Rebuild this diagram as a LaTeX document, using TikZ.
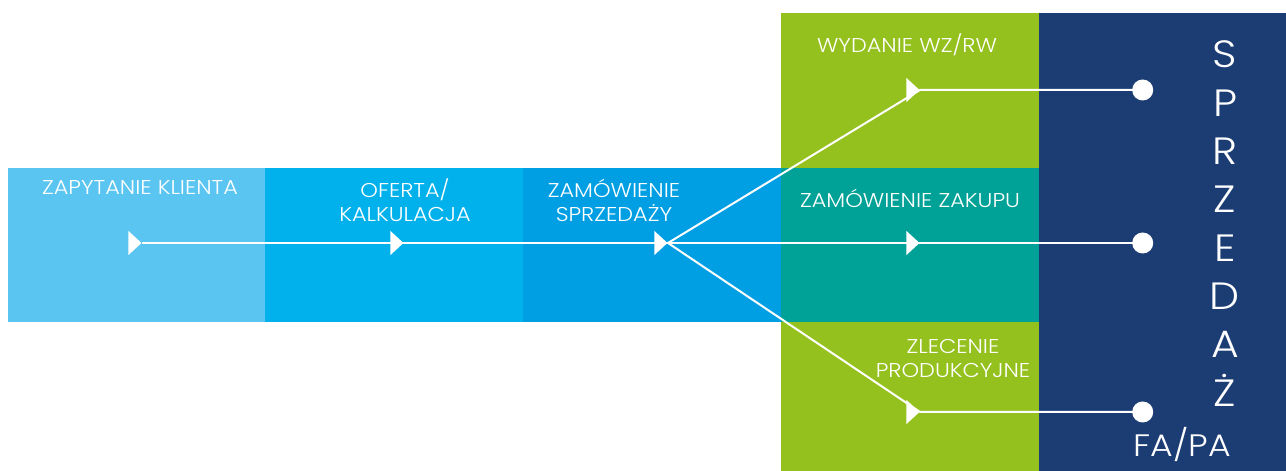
\documentclass[tikz,border=0pt]{standalone}
\usepackage{fontspec}
\setmainfont{Poppins Light}
\newfontfamily\widefont{Poppins Light}[FakeStretch=1.12]
\usepackage{tikz}
\usetikzlibrary{arrows,positioning,shapes.geometric}
\definecolor{skyblue}{HTML}{5BC5F2}
\definecolor{midblue}{HTML}{00B1EB}
\definecolor{deepblue}{HTML}{009FE3}
\definecolor{limegreen}{HTML}{95C11F}
\definecolor{seateal}{HTML}{00A297}
\definecolor{navyblue}{HTML}{1C3D74}

\begin{document}
\begin{tikzpicture}[x=1pt,y=1pt,
    arrowhead/.style={isosceles triangle, isosceles triangle stretches,
      fill=white, inner sep=0pt, minimum width=24pt, minimum height=13pt, anchor=apex},
    endpoint/.style={circle, fill=white, inner sep=0pt, minimum size=21pt},
    flow/.style={white, line width=2pt},
    boxtext/.style={text=white, align=center, font=\widefont\fontsize{20}{24}\selectfont}]
  \useasboundingbox (0,0) rectangle (1286,471);
  % bands
  \fill[skyblue] (8,149) rectangle (265,303);
  \fill[midblue] (265,149) rectangle (523,303);
  \fill[deepblue] (523,149) rectangle (781,303);
  \fill[limegreen] (781,0) rectangle (1039,458);
  \fill[seateal] (781,149) rectangle (1039,303);
  \fill[navyblue] (1039,0) rectangle (1286,458);
  % markers
  \node (zk) [arrowhead] at (142,228) {};
  \node (of) [arrowhead] at (404,228) {};
  \node (zs) [arrowhead] at (668,228) {};
  \node (wz) [arrowhead] at (920,381) {};
  \node (zz) [arrowhead] at (920,228) {};
  \node (zp) [arrowhead] at (920,59) {};
  \node (d1) [endpoint, right=212pt of wz.apex] {};
  \node (d2) [endpoint, right=212pt of zz.apex] {};
  \node (d3) [endpoint, right=212pt of zp.apex] {};
  \draw[flow] (zk.apex) -- (of.apex) -- (zs.apex) -- (zz.apex) -- (d2.center);
  \draw[flow] (zs.apex) -- (wz.apex) -- (d1.center);
  \draw[flow] (zs.apex) -- (zp.apex) -- (d3.center);
  % labels
  \node (zapyt) [boxtext] at (140,283) {ZAPYTANIE KLIENTA};
  \node (oferta) [boxtext] at (405,271) {OFERTA/\\KALKULACJA};
  \node (zamspr) [boxtext] at (614,271) {ZAMÓWIENIE\\SPRZEDAŻY};
  \node (wydanie) [boxtext] at (907,426) {WYDANIE WZ/RW};
  \node (zamzak) [boxtext] at (910,273) {ZAMÓWIENIE ZAKUPU};
  \node (zlec) [boxtext] at (953,112) {ZLECENIE\\PRODUKCYJNE};
  \node (fapa) [text=white, font=\widefont\fontsize{31}{36}\selectfont] at (1182,26) {FA/PA};
  \foreach \l [count=\i] in {S,P,R,Z,E,D,A,Ż}
    \node (s\i) [text=white, anchor=base, font=\widefont\fontsize{38}{40}\selectfont]
      at (1225,{403-(\i-1)*48.3}) {\l};
\end{tikzpicture}
\end{document}
